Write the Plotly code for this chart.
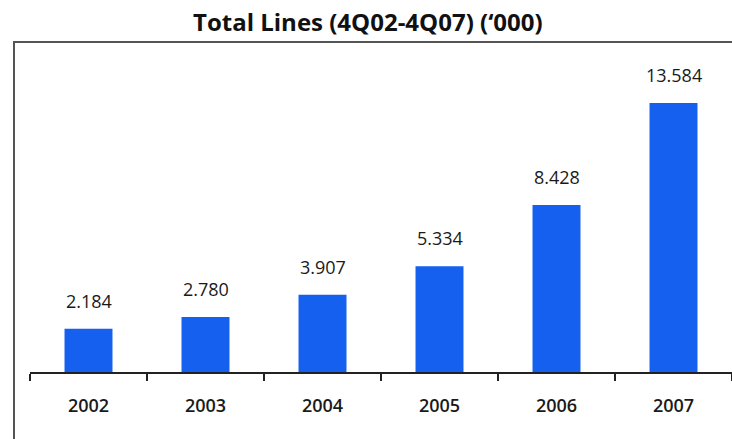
import plotly.graph_objects as go

years = ["2002", "2003", "2004", "2005", "2006", "2007"]
lines_k = [2184, 2780, 3907, 5334, 8428, 13584]
value_labels = ["2.184", "2.780", "3.907", "5.334", "8.428", "13.584"]
title_text = "Total Lines (4Q02-4Q07) (\u2018000)"

W, H = 732, 439
BAR_COLOR = "#1560ee"
FONT = "Open Sans, sans-serif"

fig = go.Figure()
fig.add_trace(go.Bar(
    x=years, y=lines_k, marker=dict(color=BAR_COLOR, line=dict(width=0)),
    width=0.41, hoverinfo="skip",
))

for i, (v, lab) in enumerate(zip(lines_k, value_labels)):
    fig.add_annotation(x=i, y=v, xref="x", yref="y", text=lab, showarrow=False,
                       yanchor="middle", xanchor="center", yshift=28,
                       font=dict(family=FONT, size=18, color="#1a1a1a"))

fig.add_annotation(x=368 / W, y=1 - 22 / H, xref="paper", yref="paper", text=title_text,
                   showarrow=False, xanchor="center", yanchor="middle",
                   font=dict(family=FONT, size=24, color="#111111", weight=700))

# frame box (top and left edges visible)
fig.add_shape(type="line", xref="paper", yref="paper", x0=13 / W, x1=1.0,
              y0=1 - 42 / H, y1=1 - 42 / H, line=dict(color="#555555", width=2))
fig.add_shape(type="line", xref="paper", yref="paper", x0=14 / W, x1=14 / W,
              y0=1 - 42 / H, y1=0, line=dict(color="#555555", width=2))

fig.update_layout(
    width=W, height=H, margin=dict(l=0, r=0, t=0, b=0),
    paper_bgcolor="white", plot_bgcolor="white", showlegend=False,
    xaxis=dict(domain=[30 / W, 1.0], type="category", range=[-0.5, 5.5],
               showline=True, linecolor="#222222", linewidth=1.5,
               ticks="outside", tickson="boundaries", ticklen=7, tickcolor="#222222",
               tickwidth=1.5, showgrid=False, zeroline=False,
               ticklabelstandoff=17,
               tickfont=dict(family=FONT, size=18, color="#1a1a1a", weight=600)),
    yaxis=dict(domain=[1 - 372 / H, 1 - 50 / H], range=[0, 16260], visible=False,
               showgrid=False, zeroline=False),
)

fig.write_html("out.html")
